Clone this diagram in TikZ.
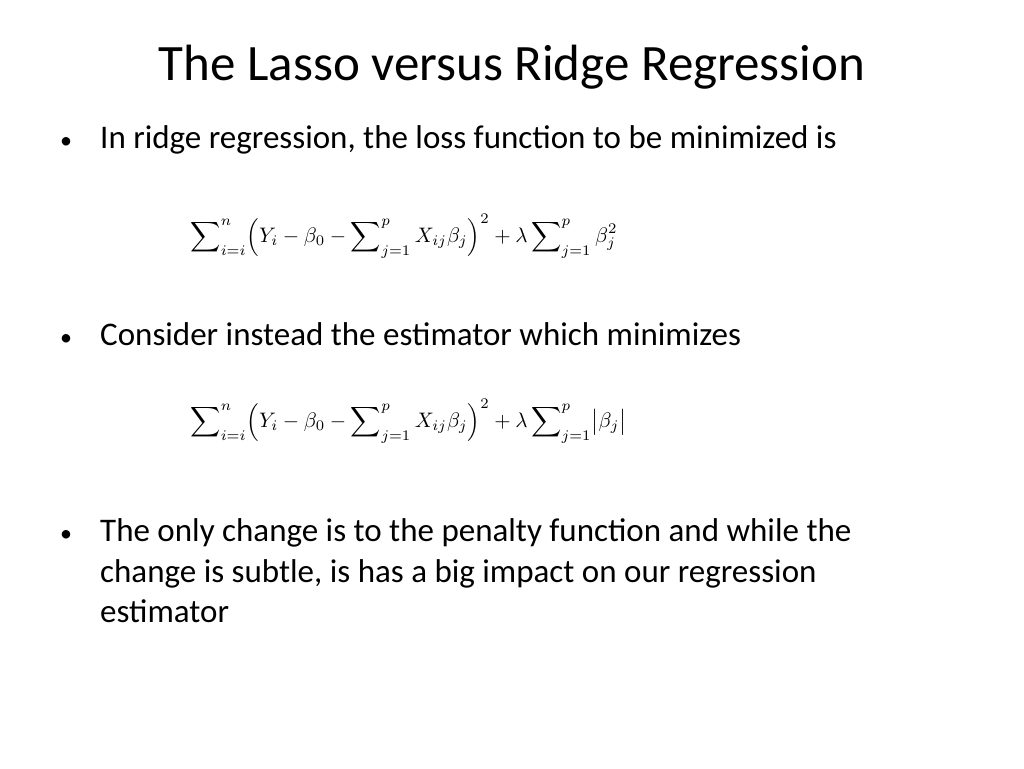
\documentclass[tikz,border=0pt]{standalone}
\usepackage{fontspec}
\setmainfont{Carlito}
\begin{document}
\begin{tikzpicture}[x=1pt,y=-1pt,
  txt/.style={anchor=base west,inner sep=0pt,font=\fontsize{33}{41}\selectfont},
  eq/.style={anchor=west,inner sep=0pt,scale=2.1,transform shape}]
\useasboundingbox (0,0) rectangle (1024,768);
\node[anchor=base,inner sep=0pt,font=\fontsize{51}{56}\selectfont] (title) at (512,81) {The Lasso versus Ridge Regression};
\node[txt,font=\fontsize{24}{30}\selectfont] (b1) at (60,148) {•};
\node[txt] (t1) at (100,148) {In ridge regression, the loss function to be minimized is};
\node[eq] (e1) at (190,236) {$\displaystyle\sum\nolimits_{i=i}^{n}\Bigl(Y_i-\beta_0-\sum\nolimits_{j=1}^{p}X_{ij}\beta_j\Bigr)^2+\lambda\sum\nolimits_{j=1}^{p}\beta_j^2$};
\node[txt,font=\fontsize{24}{30}\selectfont] (b2) at (60,345) {•};
\node[txt] (t2) at (100,345) {Consider instead the estimator which minimizes};
\node[eq] (e2) at (190,421) {$\displaystyle\sum\nolimits_{i=i}^{n}\Bigl(Y_i-\beta_0-\sum\nolimits_{j=1}^{p}X_{ij}\beta_j\Bigr)^2+\lambda\sum\nolimits_{j=1}^{p}\bigl|\beta_j\bigr|$};
\node[txt,font=\fontsize{24}{30}\selectfont] (b3) at (60,541) {•};
\node[txt] (t3a) at (100,541) {The only change is to the penalty function and while the};
\node[txt] (t3b) at (100,582) {change is subtle, is has a big impact on our regression};
\node[txt] (t3c) at (100,622) {estimator};
\end{tikzpicture}
\end{document}
